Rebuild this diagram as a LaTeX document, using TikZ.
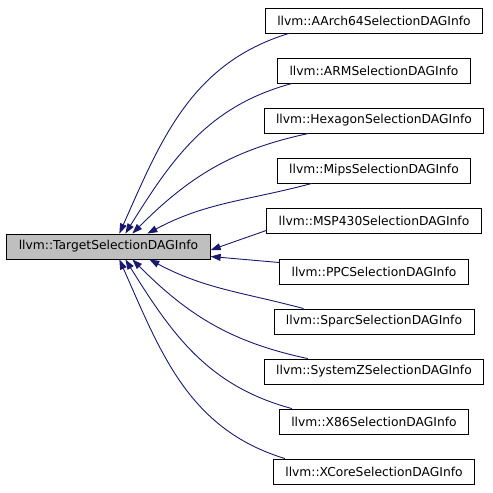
\documentclass[tikz,border=0pt]{standalone}
\usepackage{fontspec}
\setmainfont{DejaVu Sans}
\usetikzlibrary{arrows.meta}
\definecolor{edgeblue}{HTML}{191970}
\definecolor{basegray}{HTML}{BFBFBF}

\begin{document}
\begin{tikzpicture}[x=1pt,y=1pt,
    box/.style={draw=black,line width=0.9pt,minimum height=25pt,inner xsep=12pt,inner ysep=0pt,
        font=\fontsize{12.3}{14}\selectfont},
    base/.style={box,fill=basegray},
    edge/.style={draw=edgeblue,line width=0.9pt,{Triangle[length=10pt,width=7pt]}-}]
        % Marco del dibujo
        \useasboundingbox (0,0) rectangle (493,-493);
        % Clase base
        \node[base] (tsdi) at (108.5,-246.5) {llvm::TargetSelectionDAGInfo};
        % Clases derivadas
        \node[box] (aarch) at (374,-20.5) {llvm::AArch64SelectionDAGInfo};
        \node[box] (arm) at (374,-70.5) {llvm::ARMSelectionDAGInfo};
        \node[box] (hexa) at (374,-120.5) {llvm::HexagonSelectionDAGInfo};
        \node[box] (mips) at (374,-170.5) {llvm::MipsSelectionDAGInfo};
        \node[box] (msp) at (374,-220.5) {llvm::MSP430SelectionDAGInfo};
        \node[box] (ppc) at (374,-271.5) {llvm::PPCSelectionDAGInfo};
        \node[box] (sparc) at (374,-321.5) {llvm::SparcSelectionDAGInfo};
        \node[box] (sysz) at (374,-371.5) {llvm::SystemZSelectionDAGInfo};
        \node[box] (xeo) at (374,-421.5) {llvm::X86SelectionDAGInfo};
        \node[box] (xcore) at (374,-471.5) {llvm::XCoreSelectionDAGInfo};
        % Flechas de herencia, arriba
        \draw[edge] ([xshift=113pt]tsdi.north west) to[out=66,in=197] ([xshift=24pt]aarch.south west);
        \draw[edge] ([xshift=119pt]tsdi.north west) to[out=58,in=195] ([xshift=15pt]arm.south west);
        \draw[edge] ([xshift=126pt]tsdi.north west) to[out=45,in=192] ([xshift=45pt]hexa.south west);
        \draw[edge] ([xshift=141pt]tsdi.north west) to[out=28,in=195] ([xshift=35pt]mips.south west);
        \draw[edge] ([yshift=-3.5pt]tsdi.east) -- ([yshift=-10pt]msp.west);
        % Flechas de herencia, abajo
        \draw[edge] ([yshift=-10pt]tsdi.east) -- ([yshift=9pt]ppc.west);
        \draw[edge] ([xshift=143pt]tsdi.south west) to[out=-28,in=165] ([xshift=30pt]sparc.north west);
        \draw[edge] ([xshift=126pt]tsdi.south west) to[out=-45,in=168] ([xshift=44pt]sysz.north west);
        \draw[edge] ([xshift=119pt]tsdi.south west) to[out=-58,in=165] ([xshift=13pt]xeo.north west);
        \draw[edge] ([xshift=113pt]tsdi.south west) to[out=-66,in=163] ([xshift=12pt]xcore.north west);
\end{tikzpicture}
\end{document}
